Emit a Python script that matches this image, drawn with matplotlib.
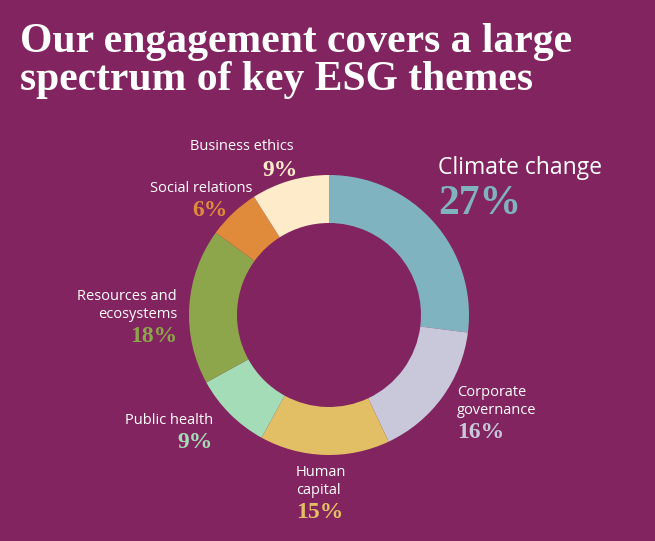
import matplotlib.pyplot as plt

# Data
themes = ["Climate change", "Corporate governance", "Human capital", "Public health",
          "Resources and ecosystems", "Social relations", "Business ethics"]
shares = [27, 16, 15, 9, 18, 6, 9]
colors = ["#80b3c0", "#c8c8da", "#e2bf64", "#a3dcb6", "#8da54b", "#e08a3c", "#fdebc9"]

bg = "#82245f"
fig = plt.figure(figsize=(6.55, 5.41), dpi=100, facecolor=bg)
ax = fig.add_axes([0, 0, 1, 1])
ax.set_facecolor(bg)

ax.pie(shares, colors=colors, startangle=90, counterclock=False,
       center=(329, 226), radius=140, frame=True,
       wedgeprops=dict(width=48, linewidth=0))
ax.set_xlim(0, 655)
ax.set_ylim(0, 541)
ax.set_aspect("equal")
ax.axis("off")

H = 541
serif = "Liberation Serif"
sans = "Open Sans"

# Title
ax.text(20, H - 42, "Our engagement covers a large", fontsize=30, fontweight="bold",
        family=serif, color="white", va="center")
ax.text(20, H - 80, "spectrum of key ESG themes", fontsize=30, fontweight="bold",
        family=serif, color="white", va="center")

def label(x, y, lines, pct, color, ha, size=10.5, psize=17, gap=18, px=None):
    for i, ln in enumerate(lines):
        ax.text(x, H - (y + i * gap), ln, fontsize=size, family=sans, color="white",
                ha=ha, va="center")
    ax.text(x if px is None else px, H - (y + len(lines) * gap + 4), f"{pct}%",
            fontsize=psize, family=serif, fontweight="bold", color=color, ha=ha, va="center")

label(438, 168, ["Climate change"], shares[0], colors[0], "left", size=16.5, psize=30, gap=32)
label(457, 392, ["Corporate", "governance"], shares[1], colors[1], "left")
label(296, 472, ["Human", "capital"], shares[2], colors[2], "left")
label(213, 420, ["Public health"], shares[3], colors[3], "right")
label(177, 296, ["Resources and", "ecosystems"], shares[4], colors[4], "right")
label(252, 188, ["Social relations"], shares[5], colors[5], "right", px=228)
ax.text(242, H - 147, "Business ethics", fontsize=10.5, family=sans, color="white",
        ha="center", va="center")
ax.text(280, H - 171, f"{shares[6]}%", fontsize=17, family=serif, fontweight="bold",
        color=colors[6], ha="center", va="center")

fig.savefig("out.png", dpi=100, facecolor=bg)
